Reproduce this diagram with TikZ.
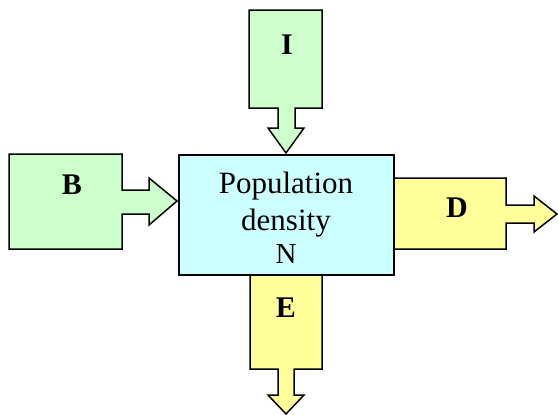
\documentclass[tikz,border=0pt]{standalone}
\usepackage{fontspec}
\setmainfont{Liberation Serif}
\definecolor{lgreen}{HTML}{CCFFCC}
\definecolor{lcyan}{HTML}{CCFFFF}
\definecolor{lyellow}{HTML}{FFFF99}
\begin{document}
\begin{tikzpicture}[x=1pt,y=-1pt,
  callout/.style={draw=black,line width=1.5pt,line join=miter},
  letter/.style={font=\fontsize{30}{30}\selectfont\bfseries,inner sep=0pt},
  poptext/.style={font=\fontsize{31}{37}\selectfont,inner sep=0pt,anchor=base},
  popbox/.style={draw=black,line width=1.5pt,fill=lcyan,minimum width=215pt,minimum height=120pt,inner sep=0pt,anchor=north west}]
\useasboundingbox (0,0) rectangle (558,415);
% I (immigration)
\draw[callout,fill=lgreen] (249,10) -- (322,10) -- (322,108) -- (295,108) -- (295,128) -- (304,128) -- (286,153) -- (268,128) -- (278,128) -- (278,108) -- (249,108) -- cycle;
% B (births)
\draw[callout,fill=lgreen] (9,154) -- (122,154) -- (122,190) -- (149,190) -- (149,178) -- (177,201) -- (149,225) -- (149,214) -- (122,214) -- (122,249) -- (9,249) -- cycle;
% D (deaths)
\draw[callout,fill=lyellow] (393,178) -- (506,178) -- (506,205) -- (534,205) -- (534,196) -- (557,214) -- (534,232) -- (534,223) -- (506,223) -- (506,249) -- (393,249) -- cycle;
% E (emigration)
\draw[callout,fill=lyellow] (250,274) -- (322,274) -- (322,369) -- (294,369) -- (294,395) -- (304,395) -- (286,414) -- (268,395) -- (278,395) -- (278,369) -- (250,369) -- cycle;
% central box
\node[popbox] (pop) at (178,154) {};
\node[poptext] (t1) at (286,193) {Population};
\node[poptext] (t2) at (286,230) {density};
\node[poptext,font=\fontsize{29}{30}\selectfont] (t3) at (286,263) {N};
% letters
\node[letter] (I) at (287,44.5) {I};
\node[letter] (B) at (72,184.5) {B};
\node[letter] (D) at (457,208) {D};
\node[letter] (E) at (286,307.5) {E};
\end{tikzpicture}
\end{document}
